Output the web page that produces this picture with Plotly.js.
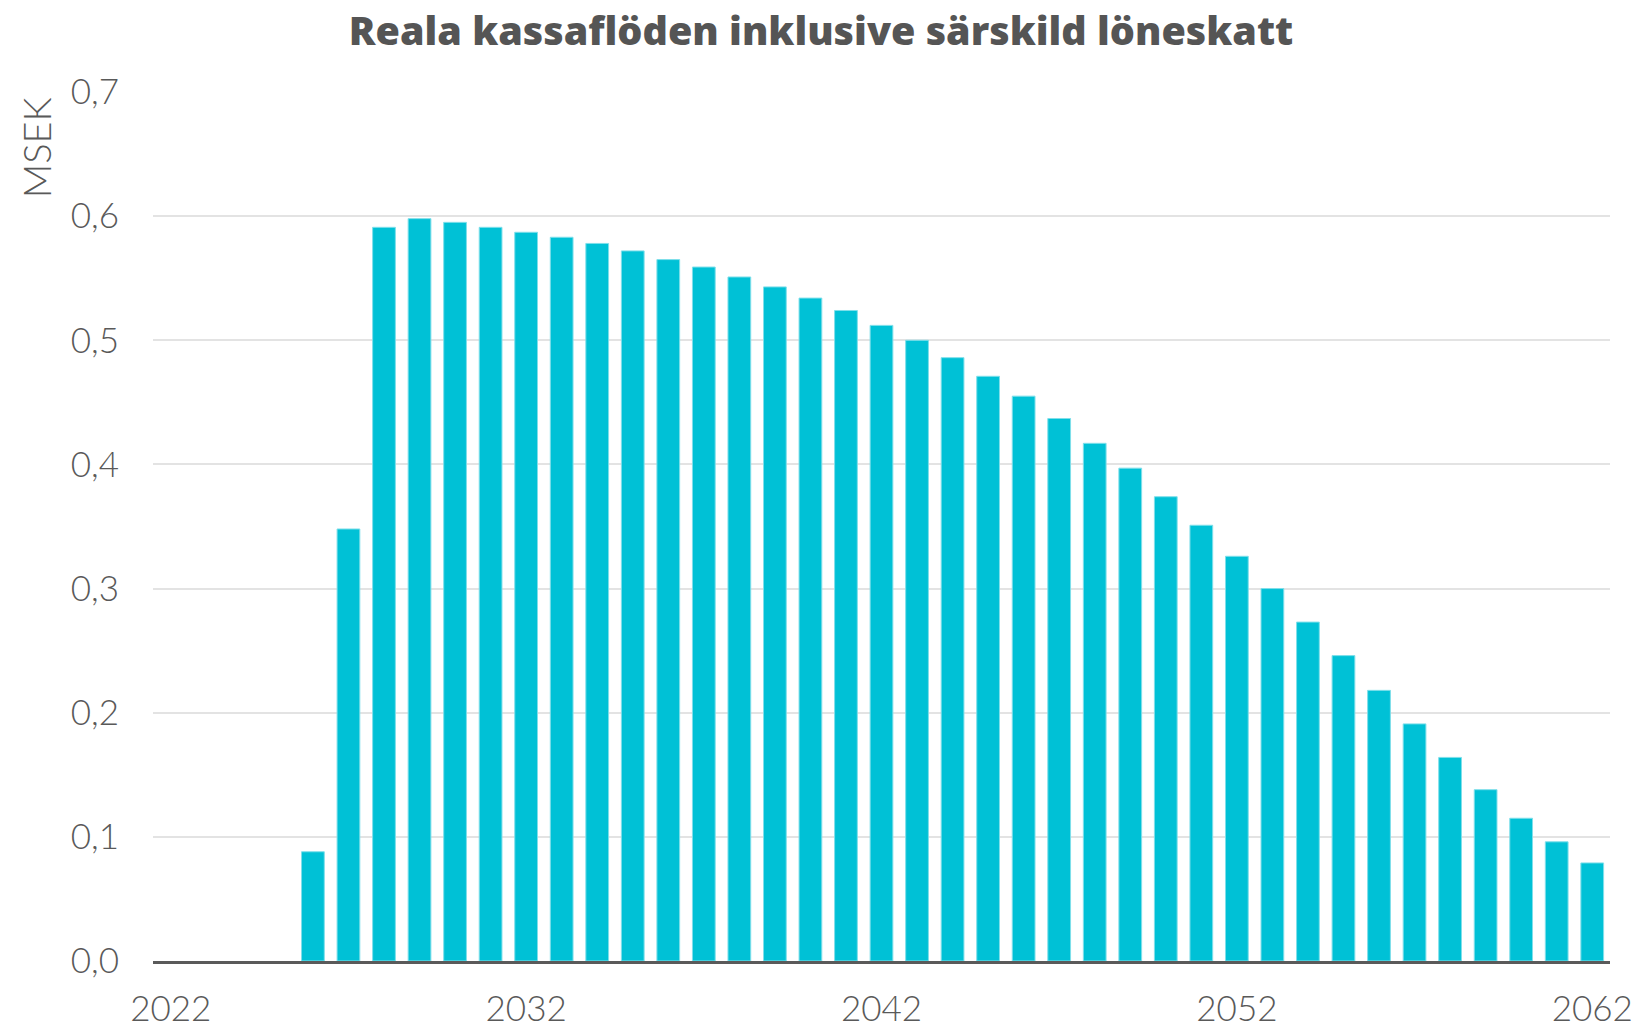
<!DOCTYPE html>
<html>
<head>
<meta charset="utf-8">
<script src="https://cdn.plot.ly/plotly-3.0.1.min.js"></script>
<style>html,body{margin:0;padding:0;background:#fff;}#chart{width:1642px;height:1027px;}</style>
</head>
<body>
<div id="chart"></div>
<script>
const years = [2026,2027,2028,2029,2030,2031,2032,2033,2034,2035,2036,2037,2038,2039,2040,2041,2042,2043,2044,2045,2046,2047,2048,2049,2050,2051,2052,2053,2054,2055,2056,2057,2058,2059,2060,2061,2062];
const values = [0.088,0.348,0.591,0.598,0.595,0.591,0.587,0.583,0.578,0.572,0.565,0.559,0.551,0.543,0.534,0.524,0.512,0.500,0.486,0.471,0.455,0.437,0.417,0.397,0.374,0.351,0.326,0.300,0.273,0.246,0.218,0.191,0.164,0.138,0.115,0.096,0.079];
const xTicks = [2022,2032,2042,2052,2062];
const yTicks = [0,0.1,0.2,0.3,0.4,0.5,0.6,0.7];
const titleText = "Reala kassaflöden inklusive särskild löneskatt";
const yTitle = "MSEK";

const tickFont = {family: "Lato, 'Open Sans', sans-serif", size: 35, color: "#595959", weight: 300};

Plotly.newPlot("chart", [{
  type: "bar",
  x: years,
  y: values,
  marker: {color: "#00c1d6", line: {color: "#7fdfea", width: 1}},
  hoverinfo: "x+y"
}], {
  width: 1642, height: 1027,
  margin: {l: 153, r: 32, t: 92, b: 66},
  paper_bgcolor: "#fff", plot_bgcolor: "#fff",
  separators: ", ",
  bargap: 0.36,
  showlegend: false,
  title: {
    text: titleText,
    font: {family: "'Open Sans', Lato, sans-serif", size: 39.5, color: "#555555", weight: 800},
    xref: "container", x: 0.5, xanchor: "center",
    yref: "container", y: 0.97, yanchor: "middle"
  },
  xaxis: {
    type: "linear",
    range: [2021.5, 2062.5],
    tickvals: xTicks,
    ticktext: xTicks.map(String),
    ticks: "outside", ticklen: 15, tickcolor: "rgba(0,0,0,0)",
    showgrid: false, zeroline: false,
    showline: true, linecolor: "#5a5a5a", linewidth: 3,
    tickfont: tickFont,
    fixedrange: true
  },
  yaxis: {
    range: [0, 0.7],
    tickvals: yTicks,
    tickformat: ".1f",
    ticks: "outside", ticklen: 26, tickcolor: "rgba(0,0,0,0)",
    showgrid: true, gridcolor: "#e3e3e3", gridwidth: 2,
    zeroline: false, showline: false,
    tickfont: tickFont,
    fixedrange: true
  },
  annotations: [{
    text: yTitle,
    xref: "paper", yref: "paper",
    x: -0.0805, y: 0.936,
    xanchor: "center", yanchor: "middle",
    textangle: -90, showarrow: false,
    font: {family: "Lato, 'Open Sans', sans-serif", size: 38, color: "#595959", weight: 300}
  }]
}, {displayModeBar: false, staticPlot: true});
</script>
</body>
</html>
